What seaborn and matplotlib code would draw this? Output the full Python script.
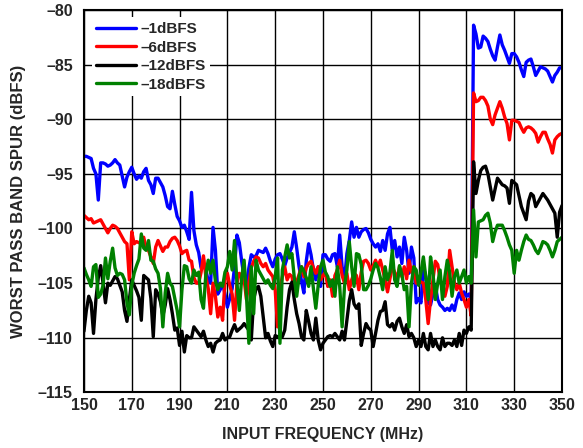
import matplotlib
matplotlib.use('Agg')
from matplotlib import pyplot as plt
import seaborn as sns
import pandas as pd

# input frequency, MHz (1 MHz steps)
freq = list(range(150, 351))

# worst pass band spur, dBFS
spur_1dbfs = [
    -93.4, -93.4, -93.5, -93.6, -94.5, -95.0, -97.4, -94.0, -94.0, -94.1,
    -94.3, -94.2, -94.0, -93.7, -94.0, -94.2, -95.2, -96.2, -95.3, -94.8,
    -94.4, -95.0, -95.5, -95.2, -95.4, -94.8, -94.5, -95.6, -96.0, -96.8,
    -95.4, -95.4, -95.8, -96.2, -97.0, -98.0, -98.2, -96.6, -97.8, -98.9,
    -99.3, -99.9, -99.7, -100.3, -101.0, -96.7, -100.2, -101.5, -102.2, -103.6,
    -103.3, -103.8, -104.8, -105.0, -99.9, -102.0, -106.0, -105.6, -105.0, -106.0,
    -107.2, -106.4, -105.5, -103.5, -100.6, -101.3, -103.0, -104.5, -105.0, -103.6,
    -102.4, -102.6, -102.5, -102.0, -102.1, -102.2, -101.8, -102.3, -103.0, -103.5,
    -102.8, -102.4, -102.3, -102.8, -103.4, -102.7, -102.2, -101.7, -100.3, -101.8,
    -103.5, -104.8, -105.9, -103.0, -101.4, -102.4, -103.8, -104.7, -103.5, -105.3,
    -102.4, -102.4, -102.8, -103.0, -102.4, -102.3, -103.5, -100.6, -103.5, -104.7,
    -102.3, -101.1, -99.4, -100.8, -99.9, -100.8, -100.3, -100.1, -100.0, -100.4,
    -101.0, -101.4, -101.7, -101.4, -102.1, -101.1, -102.0, -100.5, -99.9, -102.0,
    -101.1, -102.6, -101.7, -103.2, -100.8, -102.0, -104.1, -101.7, -102.7, -106.8,
    -106.4, -106.8, -103.5, -104.4, -106.8, -107.0, -106.0, -105.2, -106.5, -107.0,
    -107.2, -107.5, -107.3, -107.5, -107.0, -107.5, -106.5, -105.9, -106.5, -105.8,
    -106.2, -106.0, -106.5, -81.4, -82.2, -83.5, -83.4, -82.4, -82.6, -82.9,
    -83.6, -84.2, -84.6, -83.4, -82.3, -83.2, -83.7, -84.3, -84.9, -84.0,
    -84.0, -84.3, -84.8, -85.5, -86.1, -84.8, -84.6, -84.5, -85.2, -86.0,
    -85.6, -85.2, -85.3, -85.4, -85.6, -86.1, -86.6, -86.0, -85.7, -85.3,
    -85.3,
]

spur_6dbfs = [
    -98.8, -99.0, -99.2, -99.1, -99.5, -99.4, -99.3, -99.2, -99.6, -100.0,
    -100.4, -100.0, -99.7, -99.8, -100.0, -100.4, -100.8, -101.2, -101.4, -104.7,
    -100.3, -101.4, -101.2, -101.3, -101.4, -100.8, -101.8, -102.0, -102.6, -103.2,
    -101.7, -101.1, -101.6, -102.1, -101.7, -101.7, -101.2, -100.9, -100.8, -101.1,
    -101.6, -102.3, -102.1, -102.0, -102.9, -103.0, -104.5, -105.0, -105.0, -104.0,
    -102.5, -104.4, -105.5, -107.8, -105.0, -106.2, -108.1, -107.2, -108.4, -104.7,
    -104.1, -105.2, -106.0, -108.4, -105.0, -104.1, -104.4, -104.7, -106.5, -105.0,
    -103.6, -103.0, -102.6, -102.7, -103.2, -103.5, -103.2, -103.8, -104.1, -104.4,
    -105.6, -109.0, -105.5, -104.4, -103.5, -104.7, -104.2, -104.4, -105.6, -104.9,
    -104.2, -103.5, -104.4, -103.6, -103.2, -103.0, -103.6, -104.1, -103.5, -104.7,
    -104.3, -104.0, -105.3, -104.7, -106.2, -104.3, -103.8, -102.9, -104.3, -105.0,
    -104.1, -105.6, -104.7, -104.1, -104.3, -105.6, -104.0, -103.0, -102.9, -103.2,
    -103.8, -103.4, -102.9, -103.5, -102.9, -103.8, -104.7, -105.8, -104.6, -103.5,
    -104.0, -104.7, -103.5, -104.4, -103.5, -104.6, -102.9, -104.0, -103.5, -105.0,
    -104.7, -104.9, -105.0, -106.5, -108.7, -106.5, -104.7, -103.0, -103.3, -104.7,
    -105.5, -106.2, -105.3, -102.0, -103.5, -105.0, -105.6, -105.0, -105.9, -106.5,
    -107.2, -106.5, -108.0, -87.6, -88.4, -88.3, -88.0, -88.0, -88.3, -88.8,
    -90.0, -90.5, -89.6, -89.0, -88.4, -89.0, -89.8, -90.4, -91.9, -90.1,
    -90.1, -90.2, -90.3, -90.8, -91.2, -90.8, -90.7, -90.8, -91.0, -91.3,
    -92.1, -91.6, -91.2, -91.2, -91.8, -92.3, -93.1, -91.9, -91.6, -91.4,
    -91.3,
]

spur_12dbfs = [
    -109.4, -107.5, -106.2, -106.8, -109.6, -106.5, -104.5, -103.4, -105.0, -106.8,
    -105.0, -105.2, -104.8, -104.4, -104.6, -105.2, -105.8, -107.5, -108.5, -106.5,
    -104.7, -105.2, -105.7, -106.3, -108.4, -104.3, -104.5, -104.7, -106.4, -109.9,
    -105.6, -106.0, -106.7, -108.0, -107.0, -105.5, -106.5, -107.8, -109.3, -109.1,
    -110.7, -109.4, -111.3, -109.8, -110.0, -110.0, -109.0, -109.3, -109.6, -109.9,
    -109.4, -110.2, -110.8, -110.5, -111.3, -110.5, -110.3, -110.2, -109.6, -110.2,
    -110.0, -109.9, -109.3, -108.8, -109.4, -109.2, -109.0, -108.7, -109.0, -109.3,
    -110.2, -106.5, -105.5, -105.3, -106.2, -108.1, -110.0, -109.6, -110.3, -110.8,
    -109.8, -109.9, -109.9, -109.9, -109.3, -107.2, -105.6, -104.9, -106.5, -107.8,
    -108.7, -109.9, -110.2, -107.5, -108.5, -109.6, -110.2, -108.2, -110.2, -111.1,
    -110.5, -110.2, -109.9, -109.8, -109.9, -109.6, -109.9, -110.2, -109.4, -110.2,
    -108.4, -106.6, -105.6, -106.9, -107.3, -106.9, -110.7, -109.6, -108.7, -109.1,
    -109.3, -110.8, -109.6, -108.4, -107.6, -107.5, -106.7, -108.8, -109.0, -108.7,
    -109.3, -108.5, -108.2, -109.0, -109.6, -108.8, -109.9, -109.6, -110.0, -110.8,
    -110.2, -110.8, -109.6, -110.8, -111.1, -109.6, -110.8, -110.2, -110.8, -111.1,
    -110.0, -110.8, -110.5, -110.5, -110.7, -110.2, -110.8, -109.6, -110.7, -109.3,
    -109.6, -109.0, -109.3, -93.9, -96.8, -95.6, -94.7, -94.4, -94.3, -95.0,
    -96.2, -97.4, -96.4, -95.4, -95.7, -96.0, -96.1, -96.3, -97.7, -95.6,
    -95.8, -96.0, -97.0, -98.0, -98.6, -99.2, -97.5, -96.8, -97.0, -98.0,
    -97.6, -97.2, -96.8, -97.1, -97.4, -97.8, -98.2, -98.6, -100.8, -98.5,
    -97.9,
]

spur_18dbfs = [
    -103.6, -104.2, -104.7, -105.3, -103.5, -103.3, -106.3, -106.0, -105.2, -102.7,
    -104.6, -103.0, -101.8, -103.6, -104.3, -104.1, -104.2, -104.7, -106.8, -107.9,
    -105.2, -104.1, -103.4, -102.8, -100.5, -101.8, -102.0, -101.1, -102.9, -103.0,
    -103.7, -104.1, -105.5, -109.0, -105.9, -104.1, -105.0, -105.3, -106.4, -107.5,
    -109.0, -105.6, -103.4, -103.5, -104.6, -105.0, -103.8, -104.3, -104.0, -106.5,
    -107.3, -104.2, -102.9, -104.1, -102.9, -104.8, -105.6, -105.0, -105.3, -104.0,
    -103.5, -102.1, -103.8, -101.1, -105.0, -107.5, -104.5, -102.9, -106.2, -110.5,
    -103.5, -107.8, -102.9, -103.8, -104.2, -104.6, -105.0, -104.7, -105.2, -105.5,
    -104.4, -102.7, -110.5, -103.8, -102.6, -101.5, -102.7, -102.3, -104.5, -106.2,
    -104.4, -103.5, -103.9, -104.5, -105.3, -103.5, -105.5, -107.3, -105.2, -103.5,
    -102.9, -104.0, -104.4, -105.3, -104.7, -106.2, -103.5, -105.3, -109.0, -105.3,
    -103.8, -101.2, -103.5, -105.3, -102.3, -102.4, -103.3, -105.6, -105.6, -105.2,
    -104.6, -103.8, -103.2, -103.6, -104.5, -105.6, -103.5, -104.7, -104.0, -102.0,
    -104.7, -105.3, -103.4, -104.2, -105.6, -105.3, -109.0, -105.0, -103.5, -103.8,
    -105.2, -104.0, -102.6, -104.4, -106.5, -102.6, -104.1, -106.5, -105.0, -103.8,
    -106.5, -104.4, -102.9, -104.0, -106.2, -104.4, -103.8, -105.0, -104.4, -103.8,
    -105.0, -104.4, -105.0, -98.3, -102.6, -99.4, -99.3, -99.2, -98.8, -98.6,
    -99.5, -101.2, -100.3, -99.7, -99.7, -99.7, -100.2, -100.8, -101.5, -102.0,
    -104.1, -102.0, -102.9, -102.0, -101.2, -100.6, -101.0, -101.1, -101.5, -102.0,
    -102.3, -101.8, -101.2, -101.3, -101.5, -102.0, -102.6, -102.0, -101.2, -101.0,
    -100.8,
]

levels = ['\u20131dBFS', '\u20136dBFS', '\u201312dBFS', '\u201318dBFS']
colors = ['#0000ff', '#ff0000', '#000000', '#008000']
yticks = list(range(-115, -79, 5))
xticks = list(range(150, 351, 20))

for s in (spur_1dbfs, spur_6dbfs, spur_12dbfs, spur_18dbfs):
    assert len(s) == len(freq), len(s)

df = pd.DataFrame({
    'freq': freq * 4,
    'spur': spur_1dbfs + spur_6dbfs + spur_12dbfs + spur_18dbfs,
    'level': [lv for lv in levels for _ in freq],
})

sns.set_style('white')
plt.rcParams['font.family'] = ['Liberation Sans', 'DejaVu Sans']
plt.rcParams['font.weight'] = 'bold'

fig = plt.figure(figsize=(5.83, 4.48), dpi=100)
ax = fig.add_axes([0.144, 0.124, 0.820, 0.854])

sns.lineplot(data=df, x='freq', y='spur', hue='level', hue_order=levels,
             palette=colors, estimator=None, sort=False, linewidth=2.4, ax=ax)

ax.set_xlim(150, 350)
ax.set_ylim(-115, -80)
ax.set_xticks(xticks)
ax.set_xticklabels([str(t) for t in xticks], fontsize=11.5, fontweight='bold')
ax.set_yticks(yticks)
ax.set_yticklabels([str(t).replace('-', '\u2013') for t in yticks],
                   fontsize=11.5, fontweight='bold')
ax.tick_params(length=0, pad=4)
ax.tick_params(axis='y', pad=8)
ax.grid(True, color='black', linewidth=1.0)
ax.set_axisbelow(True)
for sp in ax.spines.values():
    sp.set_color('black')
    sp.set_linewidth(1.5)

ax.set_xlabel('INPUT FREQUENCY (MHz)', fontsize=11.5, fontweight='bold', labelpad=10)
ax.set_ylabel('WORST PASS BAND SPUR (dBFS)', fontsize=12, fontweight='bold', labelpad=8)

handles, labels = ax.get_legend_handles_labels()
leg = ax.legend(handles, labels, loc='upper left', bbox_to_anchor=(0.0, 1.0),
                frameon=True, fancybox=False, facecolor='white', edgecolor='none',
                framealpha=1, handlelength=2.6, handletextpad=0.3,
                labelspacing=0.3, borderpad=0.3,
                prop={'size': 11, 'weight': 'bold'})
for ln in leg.get_lines():
    ln.set_linewidth(2.4)

fig.savefig('out.png', dpi=100, facecolor='white')
